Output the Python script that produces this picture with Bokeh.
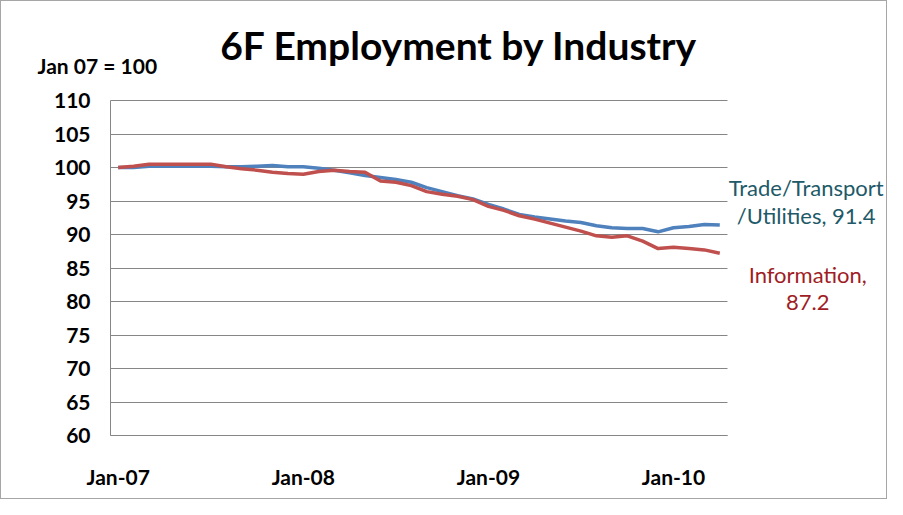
import numpy as np
from bokeh.plotting import figure
from bokeh.models import Label, FixedTicker, Range1d
from bokeh.embed import file_html
from bokeh.resources import INLINE

# ---- data (index 100 = Jan 2007), monthly Jan-07 .. Apr-10 ----
tick_labels = ["Jan-07", "Jan-08", "Jan-09", "Jan-10"]
tick_months = [0, 12, 24, 36]
y_ticks = [60, 65, 70, 75, 80, 85, 90, 95, 100, 105, 110]

trade_name = "Trade/Transport"
trade_name2 = "/Utilities"
trade = [100.0, 100.0, 100.2, 100.2, 100.2, 100.2, 100.2, 100.1, 100.1, 100.2,
         100.3, 100.1, 100.1, 99.9, 99.6, 99.2, 98.8, 98.5, 98.2, 97.8,
         97.0, 96.4, 95.8, 95.3, 94.5, 93.8, 93.0, 92.6, 92.3, 92.0,
         91.8, 91.3, 91.0, 90.9, 90.9, 90.4, 91.0, 91.2, 91.5, 91.4]

info_name = "Information"
info = [100.0, 100.2, 100.5, 100.5, 100.5, 100.5, 100.5, 100.1, 99.8, 99.6,
        99.3, 99.1, 99.0, 99.4, 99.6, 99.4, 99.3, 98.0, 97.8, 97.3,
        96.4, 96.0, 95.7, 95.2, 94.2, 93.6, 92.8, 92.3, 91.7, 91.1,
        90.5, 89.8, 89.6, 89.8, 89.0, 87.9, 88.1, 87.9, 87.7, 87.2]

months = list(range(len(trade)))
y_lo, y_hi = y_ticks[0], y_ticks[-1]
x_lo, x_hi = -0.5, len(months) - 0.5

FONT = "Lato"
GRID = "#868686"
W, H = 887, 499
# plot-area placement inside the canvas (pixels)
left, right, top, bottom = 109, 161, 99, 65
xs = (W - left - right) / (x_hi - x_lo)
ys = (H - top - bottom) / (y_hi - y_lo)

p = figure(width=W, height=H, output_backend="svg", toolbar_location=None,
           x_range=Range1d(x_lo - left / xs, x_hi + right / xs),
           y_range=Range1d(y_lo - bottom / ys, y_hi + top / ys),
           min_border=0)
p.styles = {"border": "1px solid #a6a6a6"}
p.outline_line_color = None
p.background_fill_color = "white"
p.border_fill_color = "white"
p.title.visible = False

# axes placed at the edges of the data area
p.xaxis.ticker = FixedTicker(ticks=tick_months)
p.xaxis.major_label_overrides = {m: l for m, l in zip(tick_months, tick_labels)}
p.yaxis.ticker = FixedTicker(ticks=y_ticks)
p.xaxis.fixed_location = y_lo
p.yaxis.fixed_location = x_lo
p.xaxis.bounds = (x_lo, x_hi)
p.yaxis.bounds = (y_lo, y_hi)
for ax in (p.xaxis, p.yaxis):
    ax.major_tick_out = 0
    ax.major_tick_in = 0
    ax.minor_tick_out = 0
    ax.minor_tick_in = 0
    ax.axis_line_color = GRID
    ax.axis_line_width = 1
    ax.major_label_text_font = FONT
    ax.major_label_text_font_style = "bold"
    ax.major_label_text_font_size = "21px"
    ax.major_label_text_color = "black"
p.yaxis.major_label_standoff = 20
p.xaxis.major_label_standoff = 28

p.xgrid.grid_line_color = None
yg = p.ygrid[0]
if "cross_bounds" in yg.properties():
    yg.grid_line_color = GRID
    yg.grid_line_width = 1
    yg.cross_bounds = (x_lo, x_hi)
else:
    yg.grid_line_color = None
    p.segment(x0=[x_lo] * len(y_ticks), y0=y_ticks, x1=[x_hi] * len(y_ticks), y1=y_ticks,
              line_color=GRID, line_width=1)

# lines
p.line(months, trade, line_color="#4F81BD", line_width=3.5)
p.line(months, info, line_color="#C0504D", line_width=3.5)

# title and unit note
p.add_layout(Label(x=22.1, y=118.3, text="6F Employment by Industry",
                   text_font=FONT, text_font_style="bold", text_font_size="39px",
                   text_align="center", text_baseline="alphabetic", text_color="black"))
p.add_layout(Label(x=-5.23, y=115.2, text="Jan 07 = 100",
                   text_font=FONT, text_font_style="bold", text_font_size="21px",
                   text_align="left", text_baseline="alphabetic", text_color="black"))

# end labels
lx = len(months) - 1 + 5.6
TEAL = "#215968"
RED = "#A01C24"
p.add_layout(Label(x=lx, y=97.0, text=trade_name, text_font=FONT, text_font_size="22px",
                   text_align="center", text_baseline="alphabetic", text_color=TEAL))
p.add_layout(Label(x=lx, y=92.85, text=f"{trade_name2}, {trade[-1]:.1f}", text_font=FONT,
                   text_font_size="22px", text_align="center", text_baseline="alphabetic",
                   text_color=TEAL))
p.add_layout(Label(x=lx + 0.1, y=84.0, text=f"{info_name},", text_font=FONT, text_font_size="22px",
                   text_align="center", text_baseline="alphabetic", text_color=RED))
p.add_layout(Label(x=lx + 0.1, y=79.85, text=f"{info[-1]:.1f}", text_font=FONT, text_font_size="22px",
                   text_align="center", text_baseline="alphabetic", text_color=RED))

open("out.html", "w").write(file_html(p, INLINE))
